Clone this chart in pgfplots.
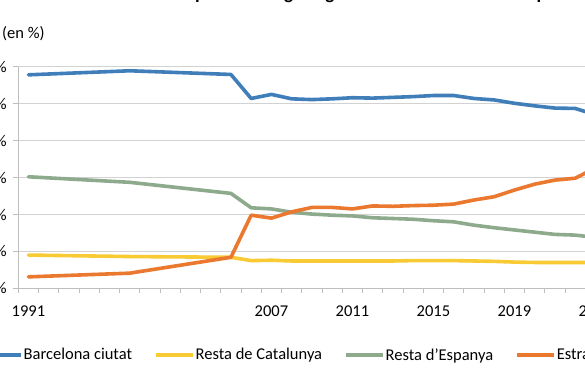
\documentclass[border=0pt]{standalone}
\usepackage{fontspec}
\setmainfont{Carlito}
\usepackage{pgfplots}
\pgfplotsset{compat=1.18}
\usepackage{pgfplotstable}
\definecolor{cBlue}{RGB}{64,126,186}
\definecolor{cYellow}{RGB}{248,202,52}
\definecolor{cGreen}{RGB}{142,170,140}
\definecolor{cOrange}{RGB}{234,120,46}
\definecolor{axisgray}{RGB}{190,190,190}
\definecolor{gridgray}{RGB}{210,210,210}
\pgfplotstableread{
k bcn cat esp est
0 57.8 9.0 30.2 3.1
5 58.9 8.6 28.7 4.1
10 57.9 8.4 25.7 8.4
11 51.4 7.5 21.8 19.8
12 52.5 7.6 21.5 19.0
13 51.3 7.4 20.6 20.7
14 51.1 7.4 20.1 21.9
15 51.3 7.4 19.8 21.9
16 51.6 7.4 19.6 21.5
17 51.5 7.4 19.1 22.3
18 51.7 7.4 18.9 22.2
19 51.9 7.5 18.7 22.4
20 52.2 7.5 18.3 22.5
21 52.2 7.5 18.0 22.8
22 51.4 7.4 17.1 23.9
23 51.0 7.3 16.4 24.8
24 50.1 7.1 15.8 26.6
25 49.4 7.0 15.2 28.2
26 48.8 7.0 14.6 29.3
27 48.7 7.0 14.4 29.8
28 47.0 7.0 13.8 32.6
}\datatable
\begin{document}
\begin{tikzpicture}[x=1pt,y=1pt]
\begin{scope}
\clip (0,0) rectangle (585,-370);
\node[anchor=base west, font=\fontsize{16.5}{20}\selectfont, inner sep=0pt] at (2,-38.5) {(en \%)};
\node[anchor=base west, font=\bfseries\fontsize{19}{23}\selectfont, inner sep=0pt] at (195,0.6) {població segons gènere i lloc de naixement per anys};
\begin{axis}[
  at={(18.3pt,-288.3pt)}, anchor=south west,
  scale only axis, width=587.25pt, height=221.6pt,
  xmin=-0.5, xmax=28.5, ymin=0, ymax=60,
  axis x line*=bottom, axis y line*=left,
  axis line style={draw=axisgray, line width=0.9pt},
  xtick={-0.5,0.5,...,28.5}, xticklabels={},
  extra x ticks={0,12,16,20,24,28},
  extra x tick labels={1991,2007,2011,2015,2019,2023},
  extra x tick style={major tick length=0pt, grid=none,
     xticklabel style={anchor=base, yshift=-27.7pt}},
  ytick={0,10,...,60},
  yticklabels={0\%,10\%,20\%,30\%,40\%,50\%,60\%},
  yticklabel style={anchor=east, inner sep=0pt, xshift=-6.5pt},
  ymajorgrids, grid style={draw=gridgray, line width=0.9pt},
  tick align=outside, major tick length=5pt,
  tick style={draw=axisgray, line width=0.9pt},
  tick label style={font=\fontsize{16.5}{20}\selectfont},
  every axis plot/.append style={line width=3.6pt, line join=round, line cap=round},
  legend columns=4,
  legend style={draw=none, fill=none, at={(axis description cs:-0.062,-0.301)}, anchor=west,
    inner sep=0pt, font=\fontsize{16.5}{20}\selectfont,
    /tikz/every even column/.append style={column sep=21pt},
    nodes={inner sep=1pt}},
  legend image code/.code={\draw[#1, line cap=butt] (0pt,0pt) -- (37pt,0pt);},
]
\addplot[cBlue] table[x=k, y=bcn] {\datatable};
\addlegendentry{Barcelona ciutat}
\addplot[cYellow] table[x=k, y=cat] {\datatable};
\addlegendentry{Resta de Catalunya}
\addplot[cGreen] table[x=k, y=esp] {\datatable};
\addlegendentry{Resta d'Espanya}
\addplot[cOrange] table[x=k, y=est] {\datatable};
\addlegendentry{Estrangers}
\end{axis}
\end{scope}
\pgfresetboundingbox
\useasboundingbox (0,0) rectangle (585,-370);
\end{tikzpicture}
\end{document}
